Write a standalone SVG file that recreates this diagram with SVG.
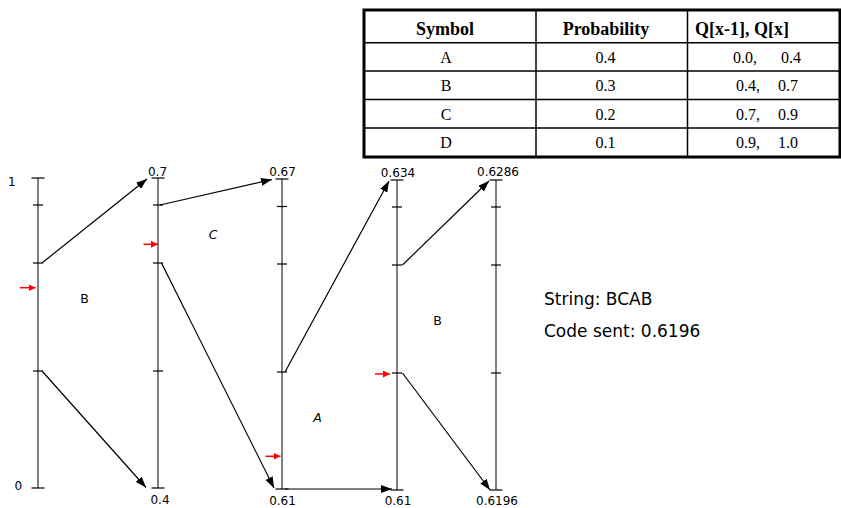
<svg xmlns="http://www.w3.org/2000/svg" width="841" height="508" viewBox="0 0 841 508">
<defs>
<marker id="ah" markerUnits="userSpaceOnUse" markerWidth="11" markerHeight="8" refX="11" refY="4" orient="auto"><path d="M0,0 L11,4 L0,8 z" fill="#000"/></marker>
<marker id="rh" markerUnits="userSpaceOnUse" markerWidth="7" markerHeight="7" refX="7" refY="3.5" orient="auto"><path d="M0,0 L7,3.5 L0,7 z" fill="#f00"/></marker>
<style>
.ax{stroke:#808080;stroke-width:2;fill:none}
.tk{stroke:#000;stroke-width:1.2;fill:none}
.cn{stroke:#000;stroke-width:1.2;fill:none;marker-end:url(#ah)}
.rd{stroke:#f00;stroke-width:1.5;fill:none;marker-end:url(#rh)}
.lb{font-family:"DejaVu Sans",Verdana,sans-serif;font-size:12px;fill:#000;text-anchor:middle}
.sy{font-family:"DejaVu Sans",Verdana,sans-serif;font-size:12.5px;fill:#000;text-anchor:middle}
.cm{font-family:"DejaVu Sans",Verdana,sans-serif;font-size:17px;fill:#000}
.th{font-family:"Liberation Serif","Times New Roman",serif;font-size:18px;font-weight:bold;fill:#000}
.td{font-family:"Liberation Serif","Times New Roman",serif;font-size:16px;fill:#000}
.tb{fill:#fff;stroke:#000;stroke-width:3}
.tl{stroke:#000;stroke-width:1.5;fill:none}
</style>
</defs>

<g id="table">
<rect class="tb" x="364" y="10" width="476" height="147"/>
<line class="tl" x1="364" y1="42.7" x2="840" y2="42.7"/>
<line class="tl" x1="364" y1="71" x2="840" y2="71"/>
<line class="tl" x1="364" y1="99.5" x2="840" y2="99.5"/>
<line class="tl" x1="364" y1="128" x2="840" y2="128"/>
<line class="tl" x1="536" y1="10" x2="536" y2="157"/>
<line class="tl" x1="687.5" y1="10" x2="687.5" y2="157"/>
<text class="th" x="445" y="35" text-anchor="middle">Symbol</text>
<text class="th" x="606" y="35" text-anchor="middle">Probability</text>
<text class="th" x="695" y="35">Q[x-1], Q[x]</text>
<text class="td" x="446" y="62.5" text-anchor="middle">A</text>
<text class="td" x="605.5" y="62.5" text-anchor="middle">0.4</text>
<text class="td" x="733" y="62.5">0.0,</text>
<text class="td" x="781" y="62.5">0.4</text>
<text class="td" x="446" y="91" text-anchor="middle">B</text>
<text class="td" x="605.5" y="91" text-anchor="middle">0.3</text>
<text class="td" x="736" y="91">0.4,</text>
<text class="td" x="778" y="91">0.7</text>
<text class="td" x="446" y="119.5" text-anchor="middle">C</text>
<text class="td" x="605.5" y="119.5" text-anchor="middle">0.2</text>
<text class="td" x="736" y="119.5">0.7,</text>
<text class="td" x="778" y="119.5">0.9</text>
<text class="td" x="446" y="148" text-anchor="middle">D</text>
<text class="td" x="605.5" y="148" text-anchor="middle">0.1</text>
<text class="td" x="736" y="148">0.9,</text>
<text class="td" x="778" y="148">1.0</text>
</g>

<g id="axis1">
<line class="ax" x1="38" y1="178" x2="38" y2="488"/>
<line class="tk" x1="31.5" y1="178" x2="44.5" y2="178"/>
<line class="tk" x1="33" y1="205" x2="43" y2="205"/>
<line class="tk" x1="33" y1="263" x2="43" y2="263"/>
<line class="tk" x1="33" y1="371" x2="43" y2="371"/>
<line class="tk" x1="31.5" y1="488" x2="44.5" y2="488"/>
<text class="lb" x="11.7" y="186">1</text>
<text class="lb" x="18.3" y="490">0</text>
<text class="sy" x="84.5" y="302.5">B</text>
</g>

<g id="axis2">
<line class="ax" x1="158" y1="178" x2="158" y2="488"/>
<line class="tk" x1="151.5" y1="178" x2="164.5" y2="178"/>
<line class="tk" x1="153" y1="205" x2="163" y2="205"/>
<line class="tk" x1="153" y1="263" x2="163" y2="263"/>
<line class="tk" x1="153" y1="371" x2="163" y2="371"/>
<line class="tk" x1="151.5" y1="488" x2="164.5" y2="488"/>
<text class="lb" x="157.5" y="175.5">0.7</text>
<text class="lb" x="160" y="503.5">0.4</text>
<text class="sy" x="213" y="239" font-style="italic">C</text>
</g>

<g id="axis3">
<line class="ax" x1="282" y1="179" x2="282" y2="489"/>
<line class="tk" x1="275.5" y1="179" x2="288.5" y2="179"/>
<line class="tk" x1="277" y1="206.5" x2="287" y2="206.5"/>
<line class="tk" x1="277" y1="264" x2="287" y2="264"/>
<line class="tk" x1="277" y1="372" x2="287" y2="372"/>
<line class="tk" x1="275.5" y1="489" x2="288.5" y2="489"/>
<text class="lb" x="282.5" y="176">0.67</text>
<text class="lb" x="282.5" y="504.5">0.61</text>
<text class="sy" x="317.5" y="421.5" font-style="italic">A</text>
</g>

<g id="axis4">
<line class="ax" x1="397" y1="180" x2="397" y2="490"/>
<line class="tk" x1="390.5" y1="180" x2="403.5" y2="180"/>
<line class="tk" x1="392" y1="207" x2="402" y2="207"/>
<line class="tk" x1="392" y1="265" x2="402" y2="265"/>
<line class="tk" x1="392" y1="373" x2="402" y2="373"/>
<line class="tk" x1="390.5" y1="490" x2="403.5" y2="490"/>
<text class="lb" x="398" y="176.5">0.634</text>
<text class="lb" x="398" y="504.5">0.61</text>
<text class="sy" x="437.5" y="325">B</text>
</g>

<g id="axis5">
<line class="ax" x1="496" y1="180" x2="496" y2="490"/>
<line class="tk" x1="489.5" y1="180" x2="502.5" y2="180"/>
<line class="tk" x1="491" y1="207" x2="501" y2="207"/>
<line class="tk" x1="491" y1="265" x2="501" y2="265"/>
<line class="tk" x1="491" y1="373" x2="501" y2="373"/>
<line class="tk" x1="489.5" y1="490" x2="502.5" y2="490"/>
<text class="lb" x="498" y="175.5">0.6286</text>
<text class="lb" x="497" y="504.5">0.6196</text>
</g>

<g id="connectors">
<line class="cn" x1="42" y1="263" x2="147" y2="179"/>
<line class="cn" x1="42" y1="371" x2="146" y2="487.5"/>
<line class="cn" x1="160" y1="205" x2="272" y2="179.5"/>
<line class="cn" x1="161.5" y1="263" x2="274" y2="488"/>
<line class="cn" x1="285" y1="372" x2="389" y2="181"/>
<line class="cn" x1="285" y1="489" x2="392" y2="489"/>
<line class="cn" x1="402.5" y1="265" x2="489" y2="181"/>
<line class="cn" x1="402.5" y1="373" x2="490" y2="490"/>
<line class="rd" x1="20" y1="287.7" x2="35.5" y2="287.7"/>
<line class="rd" x1="143.5" y1="244.3" x2="158" y2="244.3"/>
<line class="rd" x1="265.5" y1="456.3" x2="280.5" y2="456.3"/>
<line class="rd" x1="375" y1="374" x2="390" y2="374"/>
</g>

<g id="info">
<text class="cm" x="544" y="305">String: BCAB</text>
<text class="cm" x="544" y="337">Code sent: 0.6196</text>
</g>
</svg>
